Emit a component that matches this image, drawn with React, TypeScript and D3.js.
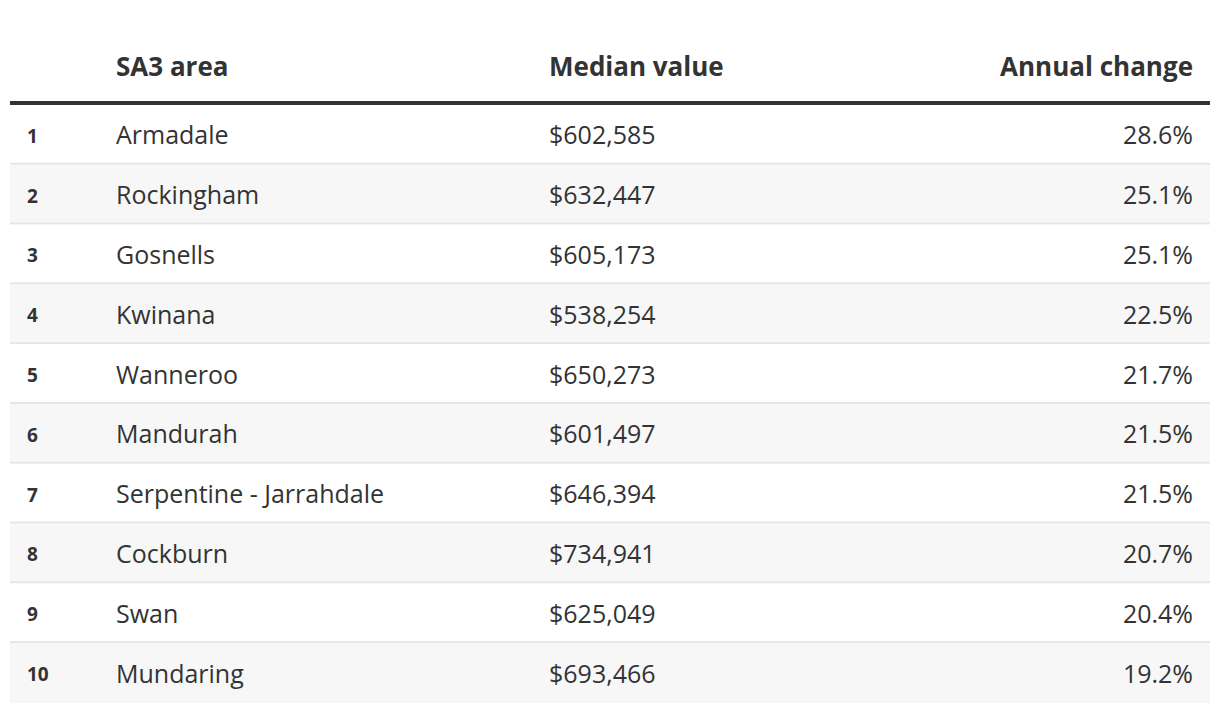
import React from "react";
import * as d3 from "d3";

const ranks = [1, 2, 3, 4, 5, 6, 7, 8, 9, 10];
const areas = [
  "Armadale",
  "Rockingham",
  "Gosnells",
  "Kwinana",
  "Wanneroo",
  "Mandurah",
  "Serpentine - Jarrahdale",
  "Cockburn",
  "Swan",
  "Mundaring",
];
const medianValues = [602585, 632447, 605173, 538254, 650273, 601497, 646394, 734941, 625049, 693466];
const annualChange = [28.6, 25.1, 25.1, 22.5, 21.7, 21.5, 21.5, 20.7, 20.4, 19.2];
const headers = ["SA3 area", "Median value", "Annual change"];

const W = 1220;
const H = 714;
const FONT = "'Open Sans', sans-serif";

export default function App() {
  const y = d3.scaleBand<number>().domain(ranks).range([105, 703]).padding(0);
  const money = d3.format("$,");
  const pct = (v: number) => d3.format(".1f")(v) + "%";
  const left = 10;
  const right = 1210;
  const xRank = 27;
  const xArea = 116;
  const xMedian = 549;
  const xChange = 1193;
  const textColor = "#333333";

  return (
    <svg
      width={W}
      height={H}
      style={{ position: "absolute", left: 0, top: 0, background: "#ffffff" }}
      fontFamily={FONT}
    >
      <rect x={0} y={0} width={W} height={H} fill="#ffffff" />
      {/* header */}
      <text x={xArea} y={76} fontSize={26} fontWeight={700} fill={textColor}>
        {headers[0]}
      </text>
      <text x={xMedian} y={76} fontSize={26} fontWeight={700} fill={textColor}>
        {headers[1]}
      </text>
      <text x={xChange} y={76} fontSize={26} fontWeight={700} fill={textColor} textAnchor="end">
        {headers[2]}
      </text>
      {ranks.map((r, i) => {
        const top = y(r) as number;
        const h = y.bandwidth();
        const cy = top + h / 2;
        return (
          <g key={r}>
            <rect x={left} y={top} width={right - left} height={h} fill={i % 2 === 1 ? "#f7f7f7" : "#ffffff"} />
            {i < ranks.length - 1 && (
              <rect x={left} y={top + h - 2} width={right - left} height={2} fill="#e5e5e5" />
            )}
            <text x={xRank} y={cy} dy="0.42em" fontSize={19} fontWeight={700} fill={textColor}>
              {r}
            </text>
            <text x={xArea} y={cy} dy="0.38em" fontSize={25} fill={textColor}>
              {areas[i]}
            </text>
            <text x={xMedian} y={cy} dy="0.38em" fontSize={25} fill={textColor}>
              {money(medianValues[i])}
            </text>
            <text x={xChange} y={cy} dy="0.38em" fontSize={25} fill={textColor} textAnchor="end">
              {pct(annualChange[i])}
            </text>
          </g>
        );
      })}
      <rect x={left} y={101} width={right - left} height={4} fill="#333333" />
    </svg>
  );
}
